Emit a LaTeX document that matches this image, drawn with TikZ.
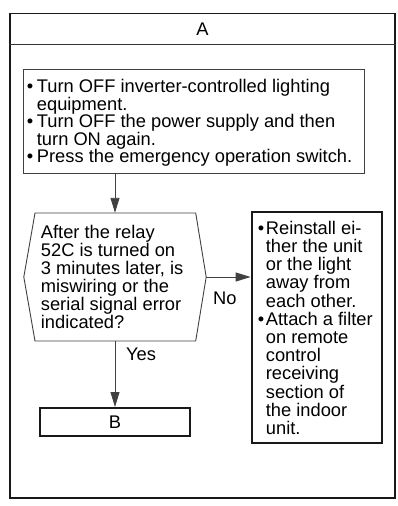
\documentclass[tikz,border=0pt]{standalone}
\usepackage{fontspec}
\setmainfont{Liberation Sans}
\usetikzlibrary{arrows.meta}
\begin{document}
\begin{tikzpicture}[x=1pt,y=-1pt,
  thinline/.style={draw=black!75,line width=0.9pt},
  thickbox/.style={draw=black!90,line width=2.2pt},
  txt/.style={inner sep=0pt,align=left,anchor=base west},
  arr/.style={thinline,-{Triangle[length=15pt,width=9pt]}}]
\useasboundingbox (0,0) rectangle (398,506);
\newcommand{\bl}[1]{\llap{\textbullet\hspace{#1}}}
% outer frame
\node[draw=black!90,line width=1.5pt,minimum width=385pt,minimum height=484.7pt,inner sep=0pt] (frame) at (202.5,255.65) {};
\draw[draw=black!80,line width=1.2pt] (frame.west |- 0,44.3) -- (frame.east |- 0,44.3);
\node[inner sep=0pt,font=\fontsize{18.3}{18}\selectfont] (hdr) at (202.5,28.8) {A};
% top box
\node[thinline,minimum width=340.5pt,minimum height=104.3pt,inner sep=0pt] (top) at (193.75,121.15) {};
% anchored at the baseline of the last line
\node[txt,font=\fontsize{18.3}{17.5}\selectfont] (toptext) at (36.7,162.7)
 {\bl{3.5pt}Turn OFF inverter-controlled lighting\\
  equipment.\\
  \bl{3.5pt}Turn OFF the power supply and then\\
  turn ON again.\\
  \bl{3.5pt}Press the emergency operation switch.};
% hexagon
\node[minimum width=182pt,minimum height=128pt,inner sep=0pt] (hex) at (115,277) {};
\draw[thinline] (35,213) -- (195.7,213) -- (hex.east) -- (195.7,341) -- (35,341) -- (hex.west) -- cycle;
\node[txt,font=\fontsize{18.3}{18.1}\selectfont] (hextext) at (40.7,328.8)
 {After the relay\\
  52C is turned on\\
  3 minutes later, is\\
  miswiring or the\\
  serial signal error\\
  indicated?};
% right box
\node[thickbox,minimum width=130pt,minimum height=230.7pt,inner sep=0pt] (r) at (316.7,327.6) {};
\node[txt,font=\fontsize{18.3}{18.2}\selectfont] (rtext) at (265.7,434.5)
 {\bl{1.5pt}Reinstall ei-\\
  ther the unit\\
  or the light\\
  away from\\
  each other.\\
  \bl{1.5pt}Attach a filter\\
  on remote\\
  control\\
  receiving\\
  section of\\
  the indoor\\
  unit.};
% B box
\node[thickbox,line width=2pt,minimum width=150pt,minimum height=28pt,inner sep=0pt,font=\fontsize{18.3}{18}\selectfont] (b) at (115,422) {B};
% connectors
\draw[arr] (top.south -| hex.north) -- (hex.north);
\draw[arr] (hex.east) -- (r.west |- hex.east);
\draw[arr] (hex.south) -- (b.north);
% labels
\node[txt,font=\fontsize{18.3}{18}\selectfont] (no) at (213,304) {No};
\node[txt,font=\fontsize{18.3}{18}\selectfont] (yes) at (126,360) {Yes};
\end{tikzpicture}
\end{document}
